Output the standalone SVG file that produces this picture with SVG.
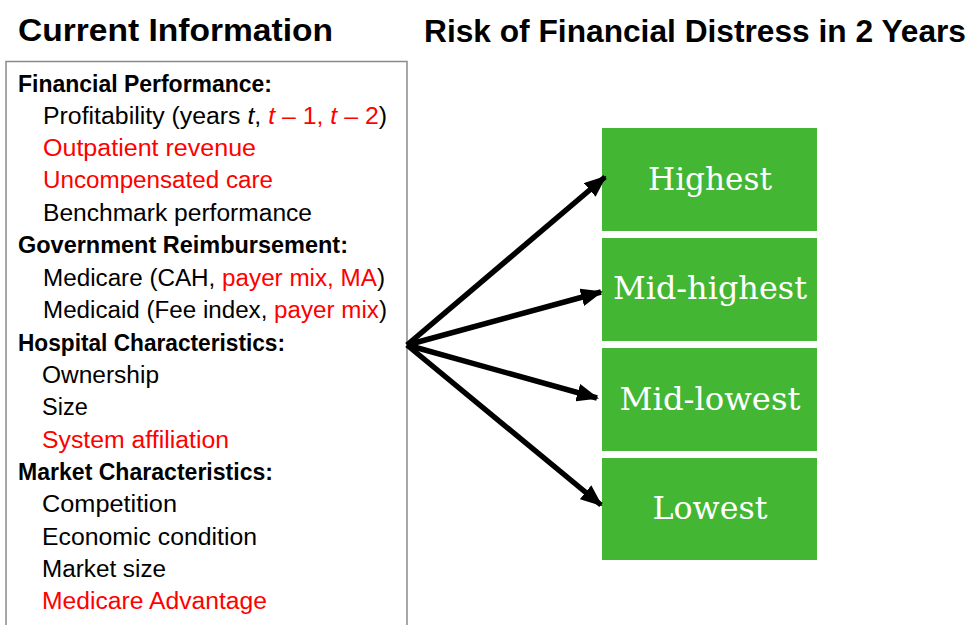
<svg xmlns="http://www.w3.org/2000/svg" width="970" height="625" viewBox="0 0 970 625">
  <defs>
    <marker id="arrow" viewBox="0 0 22 18" refX="20" refY="9" markerWidth="22" markerHeight="18" markerUnits="userSpaceOnUse" orient="auto">
      <path d="M0,0 L22,9 L0,18 Z" fill="#000"/>
    </marker>
  </defs>
  <style>
    .title { font-family: "Liberation Sans", Arial, sans-serif; font-weight: bold; font-size: 31px; fill: #000; }
    .head { font-family: "Liberation Sans", Arial, sans-serif; font-weight: bold; font-size: 23px; fill: #000; }
    .item { font-family: "Liberation Sans", Arial, sans-serif; font-size: 23.5px; fill: #000; }
    .red { fill: #ff0000; }
    .it { font-style: italic; }
    .level rect { fill: #43b734; }
    .level text { font-family: "DejaVu Serif", "Liberation Serif", serif; font-size: 31px; fill: #fff; text-anchor: middle; }
    .conn line { stroke: #000; stroke-width: 5.5; marker-end: url(#arrow); }
  </style>
  <rect width="970" height="625" fill="#fff"/>

  <!-- headings -->
  <text class="title" x="18" y="41" textLength="315" lengthAdjust="spacingAndGlyphs">Current Information</text>
  <text class="title" x="424" y="42" textLength="542" lengthAdjust="spacingAndGlyphs">Risk of Financial Distress in 2 Years</text>

  <!-- predictor list -->
  <g id="info">
    <rect x="6" y="61.5" width="401" height="580" fill="#fff" stroke="#8a8a8a" stroke-width="1.5"/>
    <text class="head" x="18" y="92" textLength="254" lengthAdjust="spacingAndGlyphs">Financial Performance:</text>
    <text class="item" x="43" y="124" textLength="344" lengthAdjust="spacingAndGlyphs">Profitability (years <tspan class="it">t</tspan>, <tspan class="red"><tspan class="it">t</tspan> – 1, <tspan class="it">t</tspan> – 2</tspan>)</text>
    <text class="item red" x="43" y="156" textLength="213" lengthAdjust="spacingAndGlyphs">Outpatient revenue</text>
    <text class="item red" x="43" y="188" textLength="230" lengthAdjust="spacingAndGlyphs">Uncompensated care</text>
    <text class="item" x="43" y="221" textLength="269" lengthAdjust="spacingAndGlyphs">Benchmark performance</text>
    <text class="head" x="18" y="253" textLength="330" lengthAdjust="spacingAndGlyphs">Government Reimbursement:</text>
    <text class="item" x="43" y="286" textLength="342" lengthAdjust="spacingAndGlyphs">Medicare (CAH, <tspan class="red">payer mix, MA</tspan>)</text>
    <text class="item" x="43" y="318" textLength="344" lengthAdjust="spacingAndGlyphs">Medicaid (Fee index, <tspan class="red">payer mix</tspan>)</text>
    <text class="head" x="18" y="351" textLength="267" lengthAdjust="spacingAndGlyphs">Hospital Characteristics:</text>
    <text class="item" x="42" y="383" textLength="117" lengthAdjust="spacingAndGlyphs">Ownership</text>
    <text class="item" x="42" y="415">Size</text>
    <text class="item red" x="42" y="448" textLength="187" lengthAdjust="spacingAndGlyphs">System affiliation</text>
    <text class="head" x="18" y="480" textLength="255" lengthAdjust="spacingAndGlyphs">Market Characteristics:</text>
    <text class="item" x="42" y="512" textLength="135" lengthAdjust="spacingAndGlyphs">Competition</text>
    <text class="item" x="42" y="545" textLength="215" lengthAdjust="spacingAndGlyphs">Economic condition</text>
    <text class="item" x="42" y="577" textLength="124" lengthAdjust="spacingAndGlyphs">Market size</text>
    <text class="item red" x="42" y="609" textLength="225" lengthAdjust="spacingAndGlyphs">Medicare Advantage</text>
  </g>

  <!-- risk levels -->
  <g id="highest" class="level">
    <rect x="602" y="128" width="215" height="103"/>
    <text x="710" y="190" textLength="124" lengthAdjust="spacingAndGlyphs">Highest</text>
  </g>
  <g id="mid-highest" class="level">
    <rect x="602" y="238" width="215" height="103"/>
    <text x="710" y="299" textLength="194" lengthAdjust="spacingAndGlyphs">Mid-highest</text>
  </g>
  <g id="mid-lowest" class="level">
    <rect x="602" y="348" width="215" height="103"/>
    <text x="710" y="410" textLength="181" lengthAdjust="spacingAndGlyphs">Mid-lowest</text>
  </g>
  <g id="lowest" class="level">
    <rect x="602" y="458" width="215" height="102"/>
    <text x="710" y="519" textLength="115" lengthAdjust="spacingAndGlyphs">Lowest</text>
  </g>

  <!-- connectors -->
  <g id="connectors" class="conn">
    <line x1="407" y1="345" x2="605" y2="177"/>
    <line x1="407" y1="345" x2="601" y2="292"/>
    <line x1="407" y1="345" x2="597" y2="398"/>
    <line x1="407" y1="345" x2="601" y2="505"/>
  </g>
</svg>
